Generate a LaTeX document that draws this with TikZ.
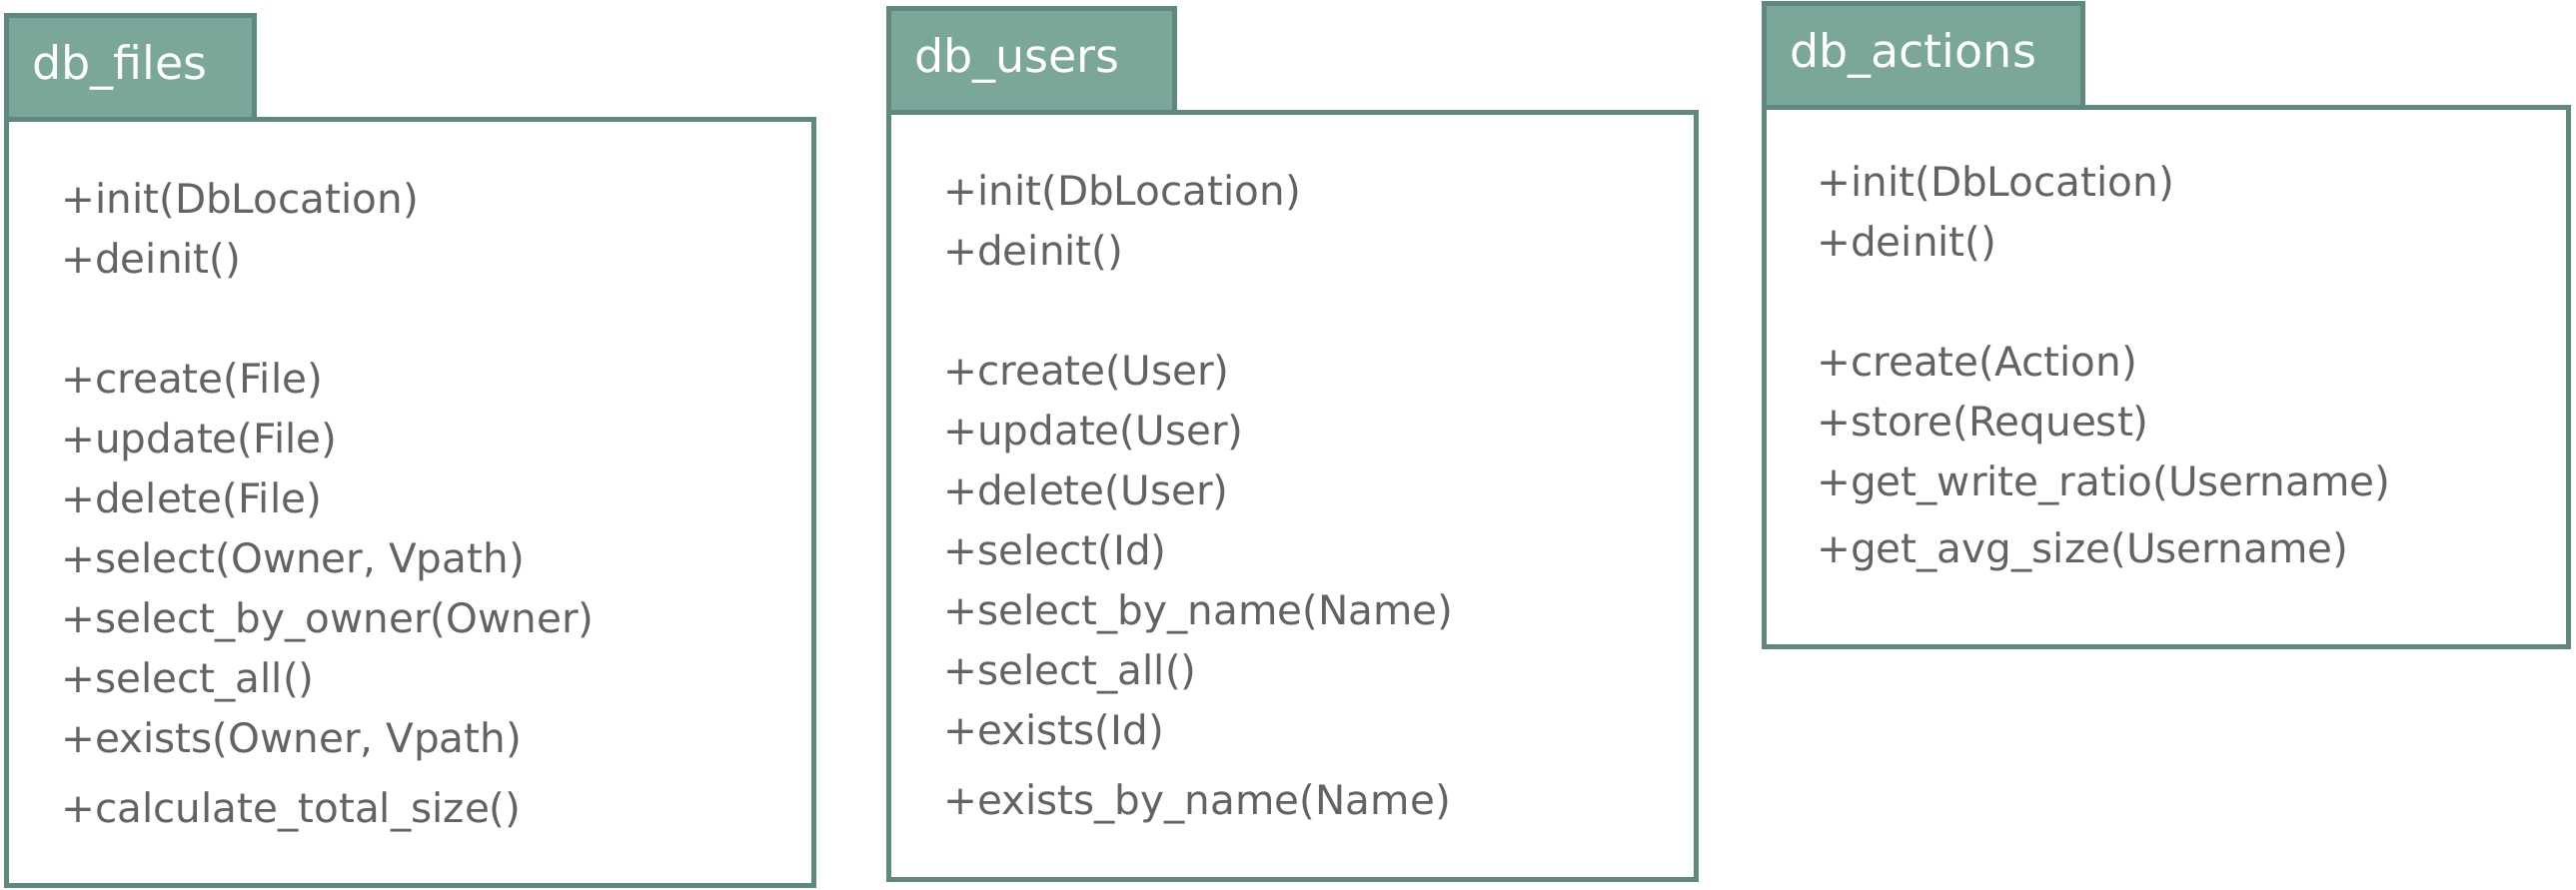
\documentclass[tikz,border=0pt]{standalone}
\usepackage{fontspec}
\setmainfont{DejaVu Sans}
\usepackage{xcolor}
\usetikzlibrary{positioning}

\definecolor{tabfill}{HTML}{7BA79B}
\definecolor{tabline}{HTML}{5F897E}
\definecolor{optext}{HTML}{636363}

\begin{document}
\begin{tikzpicture}[
  x=1pt, y=-1pt,
  tab/.style={rectangle, draw=tabline, fill=tabfill, line width=5pt, outer sep=0pt, anchor=north west, minimum height=103pt, inner xsep=26pt, align=left, text=white, font=\fontsize{46}{50}\selectfont},
  classbox/.style={rectangle, draw=tabline, fill=white, line width=5pt, outer sep=0pt, minimum width=808pt},
  ops/.style={anchor=base west, align=left, inner sep=0pt, text=optext, font=\fontsize{40.5}{60}\selectfont},
]
\useasboundingbox (0,0) rectangle (2578,891);

% db_files
\node[tab, text width=196pt] (filesTab) at (6,16) {db\_files};
\node[classbox, minimum height=767pt, below=0pt of filesTab.south west, anchor=north west] (filesBody) {};
\node[ops] (filesOps) at ([shift={(55,704)}]filesBody.north west) {+init(DbLocation)\\+deinit()\\[60pt]
  +create(File)\\+update(File)\\+delete(File)\\+select(Owner, Vpath)\\+select\_by\_owner(Owner)\\
  +select\_all()\\+exists(Owner, Vpath)\\[10pt]+calculate\_total\_size()};

% db_users
\node[tab, text width=234pt] (usersTab) at (889,9) {db\_users};
\node[classbox, minimum height=768pt, below=0pt of usersTab.south west, anchor=north west] (usersBody) {};
\node[ops] (usersOps) at ([shift={(55,703)}]usersBody.north west) {+init(DbLocation)\\+deinit()\\[60pt]
  +create(User)\\+update(User)\\+delete(User)\\+select(Id)\\+select\_by\_name(Name)\\
  +select\_all()\\+exists(Id)\\[10pt]+exists\_by\_name(Name)};

% db_actions
\node[tab, text width=267pt] (actionsTab) at (1765,4) {db\_actions};
\node[classbox, minimum width=805pt, minimum height=540pt, below=0pt of actionsTab.south west, anchor=north west] (actionsBody) {};
\node[ops] (actionsOps) at ([shift={(53,456)}]actionsBody.north west) {+init(DbLocation)\\+deinit()\\[60pt]
  +create(Action)\\+store(Request)\\+get\_write\_ratio(Username)\\[7pt]+get\_avg\_size(Username)};
\end{tikzpicture}
\end{document}
